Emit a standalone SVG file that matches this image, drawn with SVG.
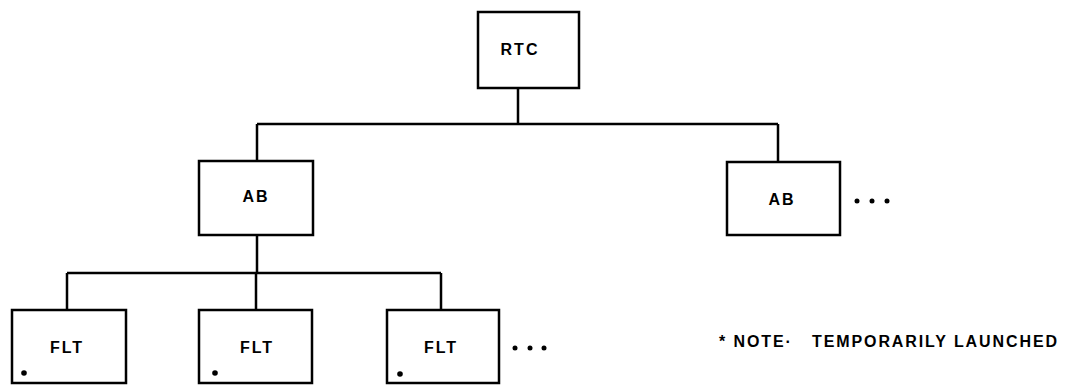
<svg xmlns="http://www.w3.org/2000/svg" width="1069" height="388" viewBox="0 0 1069 388">
<defs>
<style>
.box{fill:#fff;stroke:#000;stroke-width:2.5}
.lbl{font-family:"Liberation Sans",Arial,sans-serif;font-size:16px;font-weight:bold;letter-spacing:2px;text-anchor:middle;fill:#000}
.conn{fill:none;stroke:#000;stroke-width:2.5}
.dot{fill:#000}
.note{font-family:"Liberation Sans",Arial,sans-serif;font-size:16px;font-weight:bold;letter-spacing:1.9px;fill:#000}
</style>
</defs>
<rect width="1069" height="388" fill="#fff"/>
<g id="connectors">
<path class="conn" d="M518 88 V124 M257 124 H778 M257 124 V161 M778 124 V162"/>
<path class="conn" d="M257 235 V273 M67 273 H441 M67 273 V310 M256 273 V310 M441 273 V310"/>
</g>
<g id="rtc">
<rect class="box" x="478" y="12" width="101" height="76"/>
<text class="lbl" x="520" y="55">RTC</text>
</g>
<g id="ab1">
<rect class="box" x="199" y="161" width="114" height="74"/>
<text class="lbl" x="256" y="202">AB</text>
</g>
<g id="ab2">
<rect class="box" x="727" y="162" width="113" height="73"/>
<text class="lbl" x="782" y="205">AB</text>
<circle class="dot" cx="857" cy="201" r="2.5"/>
<circle class="dot" cx="872" cy="201" r="2.5"/>
<circle class="dot" cx="887" cy="201" r="2.5"/>
</g>
<g id="flt1">
<rect class="box" x="12" y="310" width="114" height="73"/>
<text class="lbl" x="67" y="353">FLT</text>
<circle class="dot" cx="24" cy="373" r="2.8"/>
</g>
<g id="flt2">
<rect class="box" x="199" y="310" width="113" height="73"/>
<text class="lbl" x="257" y="353">FLT</text>
<circle class="dot" cx="215" cy="373" r="2.8"/>
</g>
<g id="flt3">
<rect class="box" x="387" y="310" width="112" height="73"/>
<text class="lbl" x="441" y="353">FLT</text>
<circle class="dot" cx="400" cy="374" r="2.8"/>
<circle class="dot" cx="515" cy="348" r="2.5"/>
<circle class="dot" cx="530" cy="348" r="2.5"/>
<circle class="dot" cx="544" cy="348" r="2.5"/>
</g>
<g id="note">
<text class="note" x="719" y="347">* NOTE·</text>
<text class="note" x="812" y="347">TEMPORARILY LAUNCHED</text>
</g>
</svg>
